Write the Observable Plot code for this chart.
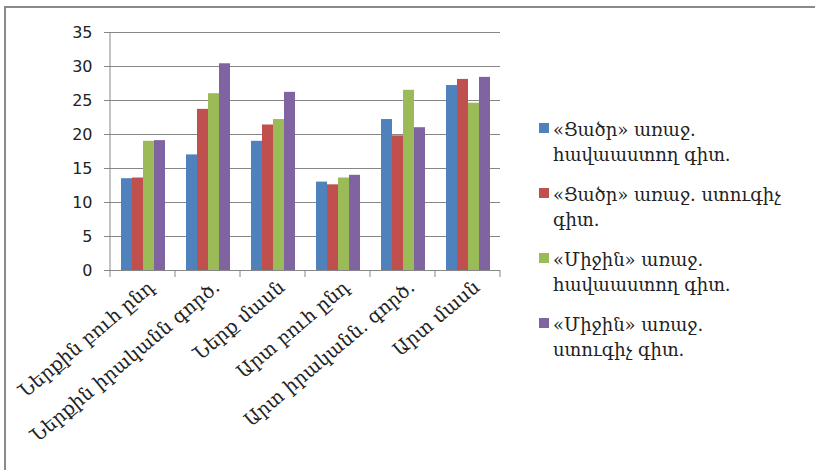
<!DOCTYPE html>
<html><head><meta charset="utf-8">
<script src="https://cdn.jsdelivr.net/npm/d3@7"></script>
<script src="https://cdn.jsdelivr.net/npm/@observablehq/plot@0.6"></script>
<style>
body{margin:0;background:#fff;}
#wrap{position:relative;width:815px;height:470px;overflow:hidden;background:#fff;}
#frame{position:absolute;left:4px;top:6px;width:900px;height:600px;border-top:2px solid #8a8a8a;border-left:2px solid #8a8a8a;}
#chart{position:absolute;left:0;top:0;}
#legend{position:absolute;left:539px;top:117px;font-family:"DejaVu Serif",serif;font-size:18px;color:#222;}
.item{position:relative;padding-left:14px;line-height:25px;height:50px;margin-bottom:15px;white-space:nowrap;}
.sw{position:absolute;left:0;top:6px;width:10px;height:10px;}
</style></head>
<body><div id="wrap"><div id="frame"></div><div id="chart"></div><div id="legend"></div></div>
<script>
const categories = ["Ներքին բուհ ընդ","Ներքին իրականն գործ.","Ներք մասն","Արտ բուհ ընդ","Արտ իրականն. գործ.","Արտ մասն"];
const legendLines = [
  ["«Ցածր» առաջ.","հավաաստող գիտ."],
  ["«Ցածր» առաջ. ստուգիչ","գիտ."],
  ["«Միջին» առաջ.","հավաաստող գիտ."],
  ["«Միջին» առաջ.","ստուգիչ գիտ."]
];
const series = legendLines.map(l => l.join(" "));
const lowAffirm  = [13.5, 17.0, 19.0, 13.0, 22.2, 27.2];
const lowControl = [13.6, 23.7, 21.4, 12.6, 19.8, 28.1];
const midAffirm  = [19.0, 26.0, 22.2, 13.6, 26.5, 24.6];
const midControl = [19.1, 30.4, 26.2, 14.0, 21.0, 28.4];
const seriesValues = [lowAffirm, lowControl, midAffirm, midControl];
const colors = ["#4F81BD","#C0504D","#9BBB59","#8064A2"];
const yTicks = [0,5,10,15,20,25,30,35];

const data = categories.flatMap((c,i) => series.map((s,j) => ({category:c, series:s, value:seriesValues[j][i]})));

const plot = Plot.plot({
  width:815, height:470,
  marginLeft:108, marginRight:313, marginTop:32, marginBottom:200,
  style:{fontFamily:"DejaVu Sans, sans-serif", fontSize:"16px", color:"#222", background:"transparent", overflow:"visible"},
  fx:{domain:categories, padding:0, label:null},
  x:{domain:series, paddingInner:0, paddingOuter:0.75, axis:null},
  y:{domain:[0,35], label:null},
  color:{domain:series, range:colors},
  marks:[
    Plot.gridY(yTicks, {stroke:"#868686", strokeOpacity:1}),
    Plot.barY(data, {fx:"category", x:"series", y:"value", fill:"series"}),
    Plot.axisY(yTicks, {tickSize:6, tickPadding:12, stroke:"#868686", label:null, fontSize:16}),
    Plot.axisFx({anchor:"bottom", tickSize:0, tickPadding:14, tickRotate:-40, dx:9, label:null, fontFamily:"DejaVu Serif, serif", fontSize:19})
  ]
});
document.getElementById("chart").appendChild(plot);

// axis line and category boundary ticks, placed with Plot's scales
const fx = plot.scale("fx"), y = plot.scale("y");
const svg = d3.select(plot);
const y0 = y.apply(0), yTop = y.apply(35);
const edges = categories.map(c => fx.apply(c)).concat([fx.apply(categories[categories.length-1]) + fx.bandwidth]);
const g = svg.append("g").attr("stroke","#868686");
g.append("line").attr("x1",edges[0]).attr("x2",edges[0]).attr("y1",yTop).attr("y2",y0);
edges.forEach(x => g.append("line").attr("x1",x).attr("x2",x).attr("y1",y0).attr("y2",y0+7));

const legend = d3.select("#legend");
legendLines.forEach((lines,j) => {
  const it = legend.append("div").attr("class","item");
  it.append("div").attr("class","sw").style("background",colors[j]);
  lines.forEach((t,k) => { if(k) it.append("br"); it.append("span").text(t); });
});
</script></body></html>
